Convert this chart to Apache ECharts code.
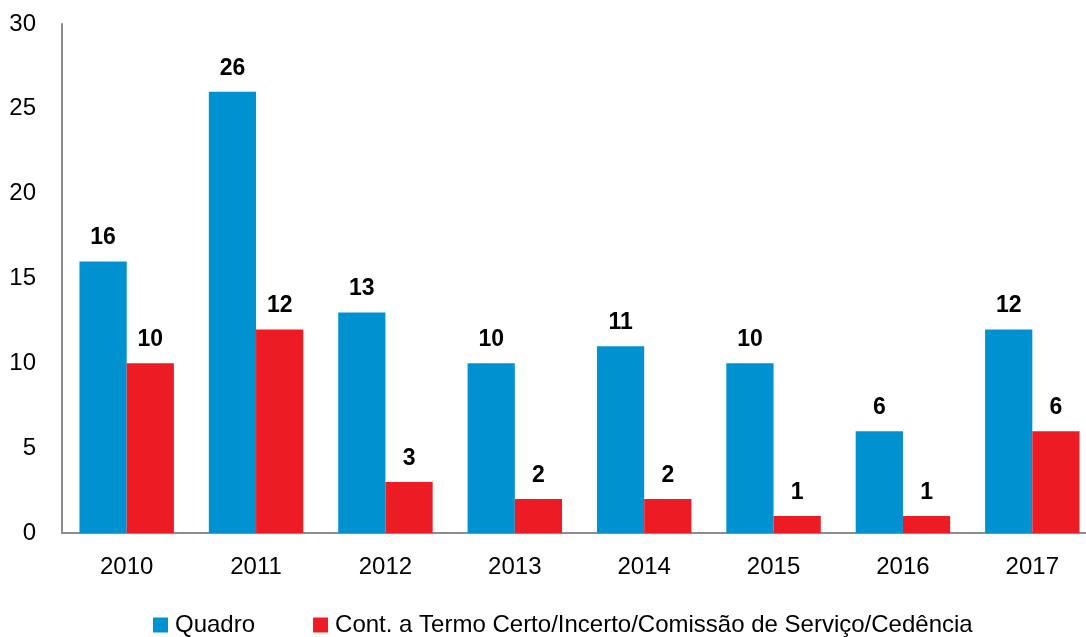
<!DOCTYPE html>
<html>
<head>
<meta charset="utf-8">
<script src="https://cdn.jsdelivr.net/npm/echarts@6/dist/echarts.min.js"></script>
<style>
  html, body { margin: 0; padding: 0; background: #fff; }
  #chart { width: 1086px; height: 637px; }
</style>
</head>
<body>
<div id="chart"></div>
<script>
// chart data
const years = ['2010', '2011', '2012', '2013', '2014', '2015', '2016', '2017'];
const quadro = [16, 26, 13, 10, 11, 10, 6, 12];
const contratos = [10, 12, 3, 2, 2, 1, 1, 6];
const seriesNames = ['Quadro', 'Cont. a Termo Certo/Incerto/Comissão de Serviço/Cedência'];

const FONT = 'Liberation Sans';

let chart = echarts.init(document.getElementById('chart'));

function barSeries(name, data, color) {
    return {
        name: name,
        type: 'bar',
        data: data,
        barGap: '0%',
        barCategoryGap: '27%',
        itemStyle: { color: color },
        label: {
            show: true,
            position: 'top',
            distance: 12,
            fontFamily: FONT,
            fontWeight: 'bold',
            fontSize: 23,
            color: '#000'
        }
    };
}

let option = {
    animation: false,
    textStyle: { fontFamily: FONT },
    // plot runs a little past the right edge, as in the original
    grid: { left: 62, width: 1035, top: 24, height: 509, outerBoundsMode: 'none' },
    legend: {
        left: 148,
        top: 608,
        itemWidth: 15,
        itemHeight: 15,
        itemGap: 58,
        icon: 'rect',
        textStyle: { fontFamily: FONT, fontSize: 24, color: '#000', padding: [0, 0, 0, 2] },
        data: seriesNames
    },
    xAxis: {
        type: 'category',
        data: years,
        axisLine: { lineStyle: { color: '#8c8c8c', width: 2 } },
        axisTick: { show: false },
        axisLabel: { fontFamily: FONT, fontSize: 24, color: '#000', margin: 22 }
    },
    yAxis: {
        type: 'value',
        min: 0,
        max: 30,
        interval: 5,
        axisLine: { show: true, lineStyle: { color: '#8c8c8c', width: 2 } },
        axisTick: { show: false },
        splitLine: { show: false },
        axisLabel: { fontFamily: FONT, fontSize: 24, color: '#000', margin: 26 }
    },
    series: [
        barSeries(seriesNames[0], quadro, '#0092d0'),
        barSeries(seriesNames[1], contratos, '#ed1c24')
    ]
};

chart.setOption(option);
</script>
</body>
</html>
